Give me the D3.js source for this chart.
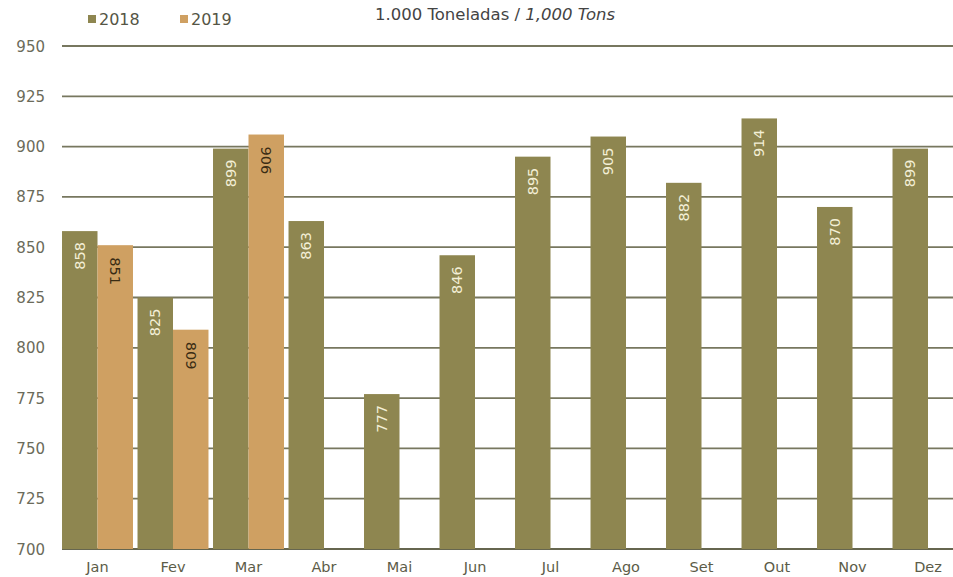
<!DOCTYPE html>
<html><head><meta charset="utf-8">
<script src="https://cdnjs.cloudflare.com/ajax/libs/d3/7.8.5/d3.min.js"></script>
<style>
html,body{margin:0;padding:0;background:#fff;}
svg{display:block;font-family:"DejaVu Sans",sans-serif;}
</style></head>
<body>
<svg id="c" width="953" height="577"></svg>
<script>
const months = ["Jan","Fev","Mar","Abr","Mai","Jun","Jul","Ago","Set","Out","Nov","Dez"];
const values2018 = [858,825,899,863,777,846,895,905,882,914,870,899];
const values2019 = [851,809,906];
const yTicks = [700,725,750,775,800,825,850,875,900,925,950];
const seriesNames = ["2018","2019"];

const W = 953, H = 577;
const svg = d3.select("#c");
const c2018 = "#8e8650", c2019 = "#cfa062";

const y = d3.scaleLinear().domain([700,950]).range([549,46]);
const x = d3.scaleBand().domain(months).range([59.75, 59.75+906]).paddingInner(0.06).paddingOuter(0.03);
const xs = d3.scaleBand().domain(seriesNames).range([0, x.bandwidth()]);

svg.append("rect").attr("x",0).attr("y",0).attr("width",W).attr("height",H).attr("fill","#fff");

// gridlines
const g = svg.append("g");
g.selectAll("line.grid").data(yTicks).join("line")
  .attr("x1",62).attr("x2",W).attr("y1",d=>y(d)).attr("y2",d=>y(d))
  .attr("stroke",d=> d===700 ? "#66664f" : "#77775f").attr("stroke-width",d=> d===700?2.2:1.8);

// y labels
g.selectAll("text.yl").data(yTicks).join("text")
  .attr("x",45).attr("y",d=>y(d)+5.5).attr("text-anchor","end")
  .attr("font-size",15).attr("fill","#6b6b5a").text(d=>d);

// bars
const data18 = months.map((m,i)=>({m,v:values2018[i]}));
const data19 = values2019.map((v,i)=>({m:months[i],v}));

svg.selectAll("rect.b18").data(data18).join("rect")
  .attr("x",d=>x(d.m)+xs("2018")).attr("width",xs.bandwidth())
  .attr("y",d=>y(d.v)).attr("height",d=>y(700)-y(d.v)).attr("fill",c2018);
svg.selectAll("rect.b19").data(data19).join("rect")
  .attr("x",d=>x(d.m)+xs("2019")).attr("width",xs.bandwidth())
  .attr("y",d=>y(d.v)).attr("height",d=>y(700)-y(d.v)).attr("fill",c2019);

// value labels
svg.selectAll("text.l18").data(data18).join("text")
  .attr("transform",d=>`translate(${x(d.m)+xs("2018")+xs.bandwidth()/2+5},${y(d.v)+11}) rotate(-90)`)
  .attr("text-anchor","end").attr("font-size",14.5).attr("fill","#f3efd6")
  .text(d=>d.v);
svg.selectAll("text.l19").data(data19).join("text")
  .attr("transform",d=>`translate(${x(d.m)+xs("2019")+xs.bandwidth()/2-5},${y(d.v)+12}) rotate(90)`)
  .attr("text-anchor","start").attr("font-size",14.5).attr("fill","#3a2c14")
  .text(d=>d.v);

// x labels
svg.selectAll("text.xl").data(months).join("text")
  .attr("x",d=>x(d)+x.bandwidth()/2).attr("y",572).attr("text-anchor","middle")
  .attr("font-size",14.5).attr("fill","#5c5c48").text(d=>d);

// legend
const leg = svg.append("g");
const legX = [88,180];
seriesNames.forEach((s,i)=>{
  leg.append("rect").attr("x",legX[i]).attr("y",15).attr("width",8).attr("height",8)
    .attr("fill", i===0?c2018:c2019);
  leg.append("text").attr("x",legX[i]+11).attr("y",25).attr("font-size",16)
    .attr("fill","#555545").text(s);
});

// subtitle
const st = svg.append("text").attr("x",495).attr("y",20).attr("text-anchor","middle")
  .attr("font-size",16.5).attr("fill","#444");
st.append("tspan").text("1.000 Toneladas / ");
st.append("tspan").attr("font-style","italic").text("1,000 Tons");
</script>
</body></html>
